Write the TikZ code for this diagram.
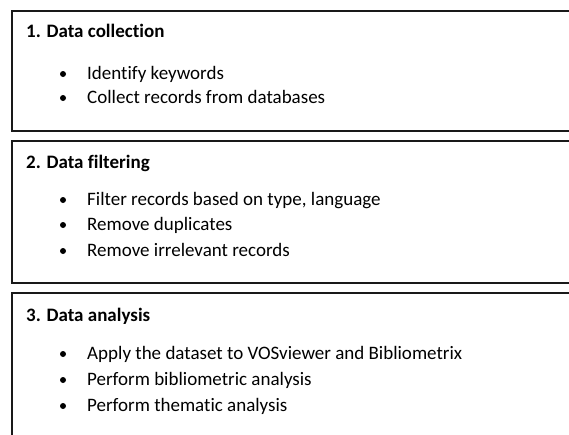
\documentclass[tikz,border=0pt]{standalone}
\usepackage{fontspec}
\setmainfont{Carlito}[Ligatures={NoCommon}]
\begin{document}
\begin{tikzpicture}[x=1pt,y=-1pt,
  box/.style={draw=black!90,line width=1.6pt},
  ttl/.style={anchor=base west,inner sep=0pt,font=\fontsize{19}{22}\selectfont\bfseries},
  itm/.style={anchor=base west,inner sep=0pt,font=\fontsize{19}{22}\selectfont},
  dot/.style={circle,fill=black,inner sep=0pt,minimum size=6pt}]
\useasboundingbox (0,0) rectangle (569,434);
\clip (0,0) rectangle (569,434);
\draw[box] (12,11) rectangle (590,131);
\draw[box] (12,141) rectangle (590,283);
\draw[box] (12,293) rectangle (590,460);
\node[ttl] (t1) at (26,37) {1. Data collection};
\node[dot] (b11) at (63,74) {};
\node[itm] (i11) at (87,79) {Identify keywords};
\node[dot] (b12) at (63,98) {};
\node[itm] (i12) at (87,103) {Collect records from databases};
\node[ttl] (t2) at (26,168) {2. Data filtering};
\node[dot] (b21) at (63,200) {};
\node[itm] (i21) at (87,205) {Filter records based on type, language};
\node[dot] (b22) at (63,225) {};
\node[itm] (i22) at (87,230) {Remove duplicates};
\node[dot] (b23) at (63,251) {};
\node[itm] (i23) at (87,256) {Remove irrelevant records};
\node[ttl] (t3) at (26,321) {3. Data analysis};
\node[dot] (b31) at (63,354) {};
\node[itm] (i31) at (87,359) {Apply the dataset to VOSviewer and Bibliometrix};
\node[dot] (b32) at (63,380) {};
\node[itm] (i32) at (87,385) {Perform bibliometric analysis};
\node[dot] (b33) at (63,406) {};
\node[itm] (i33) at (87,411) {Perform thematic analysis};
\end{tikzpicture}
\end{document}
